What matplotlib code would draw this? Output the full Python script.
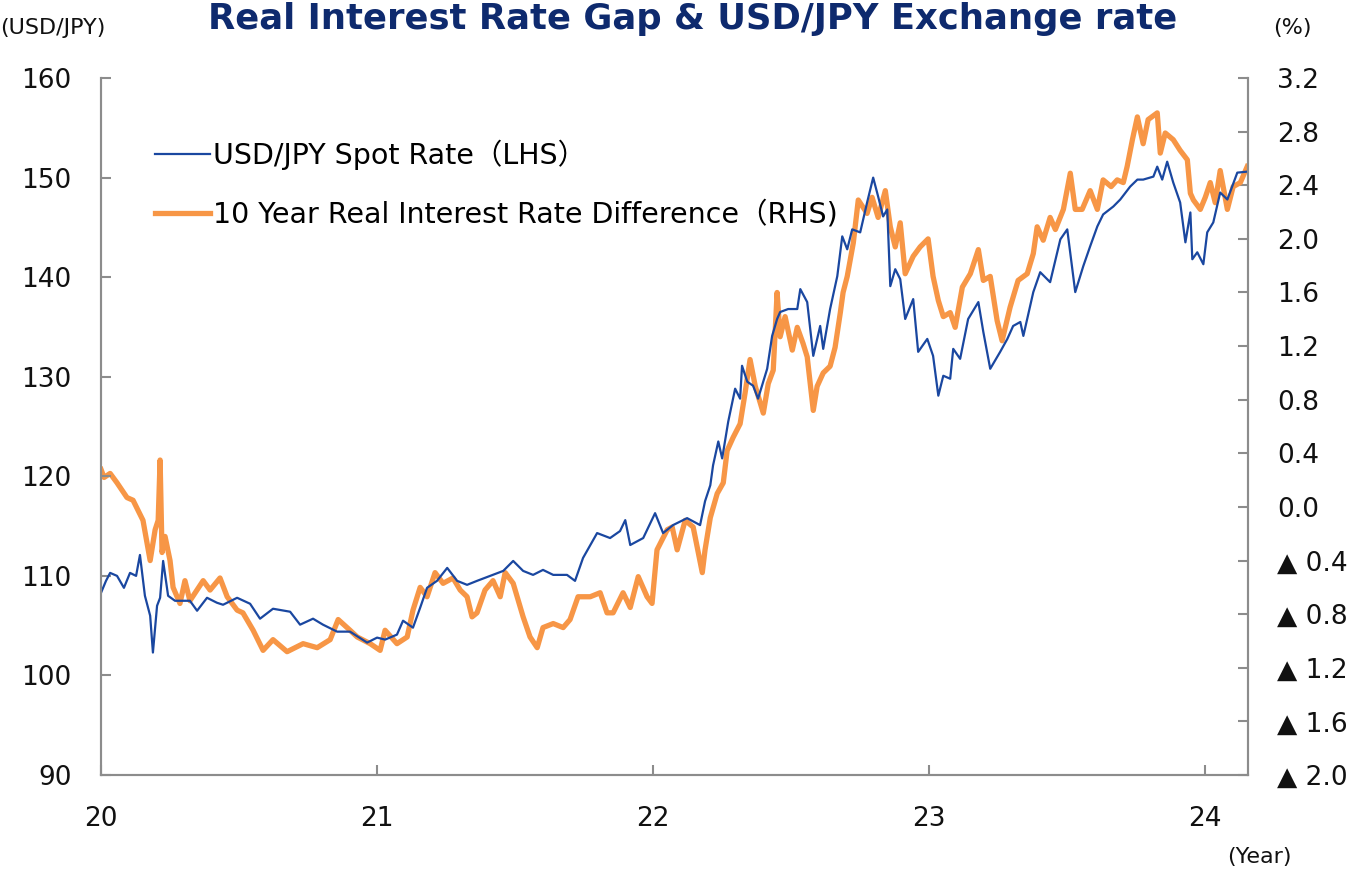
import matplotlib.pyplot as plt
from matplotlib.ticker import FuncFormatter, MultipleLocator

# USD/JPY spot rate (LHS), decimal year -> yen
usd_t = [20.000, 20.018, 20.033, 20.058, 20.083, 20.105, 20.127, 20.141, 20.159, 20.178,
         20.188, 20.203, 20.214, 20.225, 20.243, 20.268, 20.322, 20.348, 20.384, 20.420,
         20.442, 20.493, 20.540, 20.576, 20.623, 20.685, 20.721, 20.768, 20.804, 20.855,
         20.902, 20.964, 21.000, 21.029, 21.072, 21.094, 21.130, 21.156, 21.181, 21.217,
         21.254, 21.290, 21.326, 21.362, 21.409, 21.457, 21.493, 21.529, 21.565, 21.601,
         21.638, 21.688, 21.717, 21.746, 21.797, 21.844, 21.880, 21.899, 21.917, 21.964,
         22.007, 22.036, 22.072, 22.123, 22.170, 22.188, 22.207, 22.217, 22.236, 22.250,
         22.272, 22.297, 22.315, 22.322, 22.341, 22.362, 22.380, 22.413, 22.431, 22.449,
         22.460, 22.489, 22.522, 22.533, 22.558, 22.580, 22.605, 22.616, 22.641, 22.667,
         22.685, 22.703, 22.721, 22.750, 22.775, 22.797, 22.815, 22.833, 22.848, 22.859,
         22.877, 22.895, 22.913, 22.942, 22.960, 22.993, 23.014, 23.033, 23.051, 23.076,
         23.087, 23.112, 23.141, 23.178, 23.196, 23.221, 23.257, 23.283, 23.304, 23.330,
         23.341, 23.355, 23.377, 23.402, 23.438, 23.475, 23.500, 23.529, 23.558, 23.583,
         23.609, 23.630, 23.667, 23.692, 23.728, 23.754, 23.775, 23.812, 23.826, 23.844,
         23.862, 23.884, 23.909, 23.928, 23.946, 23.953, 23.971, 23.993, 24.007, 24.029,
         24.054, 24.080, 24.116, 24.152]
usd_jpy = [108.3, 109.5, 110.3, 110.0, 108.8, 110.3, 110.0, 112.1, 108.0, 106.0,
           102.3, 107.0, 107.8, 111.5, 108.0, 107.5, 107.5, 106.5, 107.8, 107.3,
           107.1, 107.8, 107.2, 105.7, 106.7, 106.4, 105.1, 105.7, 105.1, 104.4,
           104.4, 103.3, 103.8, 103.6, 104.1, 105.5, 104.8, 106.8, 108.8, 109.5,
           110.8, 109.5, 109.1, 109.5, 110.0, 110.5, 111.5, 110.5, 110.1, 110.6,
           110.1, 110.1, 109.5, 111.8, 114.3, 113.8, 114.5, 115.6, 113.1, 113.8,
           116.3, 114.3, 115.1, 115.8, 115.1, 117.5, 119.1, 121.1, 123.5, 121.8,
           125.5, 128.8, 127.8, 131.1, 129.5, 129.1, 127.8, 130.8, 134.1, 135.8,
           136.5, 136.8, 136.8, 138.8, 137.5, 132.1, 135.1, 132.8, 136.8, 140.1,
           144.1, 142.8, 144.8, 144.5, 147.5, 150.0, 148.1, 146.1, 146.8, 139.1,
           140.8, 139.8, 135.8, 137.8, 132.5, 133.8, 132.1, 128.1, 130.1, 129.8,
           132.8, 131.8, 135.8, 137.5, 134.5, 130.8, 132.5, 133.8, 135.1, 135.5,
           134.1, 135.8, 138.5, 140.5, 139.5, 143.8, 144.8, 138.5, 141.1, 143.1,
           145.1, 146.3, 147.1, 147.8, 149.1, 149.8, 149.8, 150.1, 151.1, 149.8,
           151.6, 149.5, 147.5, 143.5, 146.5, 141.8, 142.5, 141.3, 144.5, 145.5,
           148.5, 147.8, 150.5, 150.6]

# 10Y real interest rate difference (RHS), decimal year -> %
gap_t = [20.000, 20.011, 20.033, 20.058, 20.094, 20.116, 20.152, 20.178, 20.196, 20.207,
         20.214, 20.221, 20.232, 20.250, 20.261, 20.286, 20.304, 20.322, 20.370, 20.395,
         20.431, 20.457, 20.493, 20.514, 20.551, 20.587, 20.623, 20.674, 20.732, 20.783,
         20.830, 20.859, 20.902, 20.928, 20.975, 21.011, 21.029, 21.072, 21.109, 21.130,
         21.156, 21.181, 21.210, 21.239, 21.275, 21.301, 21.326, 21.344, 21.362, 21.391,
         21.420, 21.446, 21.464, 21.493, 21.529, 21.554, 21.580, 21.601, 21.638, 21.674,
         21.699, 21.728, 21.772, 21.808, 21.833, 21.855, 21.891, 21.917, 21.946, 21.978,
         21.996, 22.014, 22.051, 22.069, 22.087, 22.116, 22.145, 22.178, 22.188, 22.207,
         22.232, 22.254, 22.268, 22.290, 22.315, 22.333, 22.351, 22.370, 22.399, 22.417,
         22.435, 22.449, 22.460, 22.478, 22.504, 22.522, 22.543, 22.558, 22.580, 22.594,
         22.616, 22.641, 22.659, 22.678, 22.688, 22.703, 22.725, 22.743, 22.775, 22.793,
         22.815, 22.841, 22.859, 22.877, 22.895, 22.913, 22.942, 22.967, 22.996, 23.014,
         23.033, 23.051, 23.076, 23.094, 23.120, 23.149, 23.178, 23.196, 23.221, 23.246,
         23.264, 23.293, 23.322, 23.355, 23.377, 23.391, 23.413, 23.438, 23.457, 23.486,
         23.511, 23.529, 23.554, 23.583, 23.609, 23.630, 23.659, 23.681, 23.703, 23.717,
         23.736, 23.754, 23.775, 23.793, 23.826, 23.837, 23.855, 23.884, 23.909, 23.935,
         23.946, 23.957, 23.982, 24.000, 24.018, 24.036, 24.054, 24.080, 24.101, 24.127,
         24.152]
real_gap = [0.28, 0.22, 0.25, 0.18, 0.07, 0.05, -0.10, -0.40, -0.17, -0.10,
            0.35, -0.34, -0.22, -0.40, -0.60, -0.72, -0.55, -0.70, -0.55, -0.62,
            -0.53, -0.67, -0.77, -0.79, -0.92, -1.07, -0.99, -1.08, -1.02, -1.05,
            -0.99, -0.84, -0.92, -0.97, -1.02, -1.07, -0.92, -1.02, -0.97, -0.77,
            -0.60, -0.67, -0.49, -0.57, -0.53, -0.62, -0.67, -0.82, -0.79, -0.62,
            -0.55, -0.67, -0.49, -0.57, -0.82, -0.97, -1.05, -0.90, -0.87, -0.90,
            -0.84, -0.67, -0.67, -0.64, -0.79, -0.79, -0.64, -0.75, -0.52, -0.67,
            -0.72, -0.32, -0.17, -0.15, -0.32, -0.10, -0.15, -0.49, -0.32, -0.08,
            0.10, 0.18, 0.42, 0.52, 0.62, 0.85, 1.10, 0.90, 0.70, 0.92,
            1.02, 1.60, 1.27, 1.42, 1.17, 1.34, 1.22, 1.12, 0.72, 0.90,
            1.00, 1.05, 1.19, 1.45, 1.60, 1.72, 1.97, 2.29, 2.19, 2.31,
            2.16, 2.36, 2.09, 1.94, 2.12, 1.74, 1.87, 1.94, 2.00, 1.72,
            1.54, 1.42, 1.45, 1.34, 1.64, 1.74, 1.92, 1.69, 1.72, 1.39,
            1.24, 1.49, 1.69, 1.74, 1.89, 2.09, 1.99, 2.16, 2.07, 2.22,
            2.49, 2.22, 2.22, 2.36, 2.22, 2.44, 2.39, 2.44, 2.42, 2.54,
            2.74, 2.91, 2.71, 2.89, 2.94, 2.64, 2.79, 2.74, 2.66, 2.59,
            2.34, 2.29, 2.22, 2.31, 2.42, 2.27, 2.51, 2.22, 2.39, 2.42,
            2.54]

year_ticks = [20, 21, 22, 23, 24]
blue = '#1a47a0'
orange = '#f79646'
navy = '#0e2a6e'
grey = '#8c8c8c'

fig = plt.figure(figsize=(13.67, 8.71), dpi=100)
ax = fig.add_axes([0.0739, 0.1102, 0.8391, 0.8002])
ax2 = ax.twinx()

ax2.plot(gap_t, real_gap, color=orange, lw=3.8, solid_joinstyle='round',
         label='10 Year Real Interest Rate Difference\uff08RHS)')
ax.plot(usd_t, usd_jpy, color=blue, lw=1.6, label='USD/JPY Spot Rate\uff08LHS\uff09')

# blue line drawn above the orange one
ax.set_zorder(ax2.get_zorder() + 1)
ax.patch.set_visible(False)

ax.set_xlim(20, 24.155)
ax.set_ylim(90, 160)
ax2.set_ylim(-2.0, 3.2)
ax.set_xticks(year_ticks)
ax.set_xticklabels([str(y) for y in year_ticks])
ax.yaxis.set_major_locator(MultipleLocator(10))
ax2.yaxis.set_major_locator(MultipleLocator(0.4))


def rhs_fmt(v, pos):
    if v < -1e-9:
        return '\u25b2 %.1f' % abs(v)
    return '%.1f' % abs(v)


ax2.yaxis.set_major_formatter(FuncFormatter(rhs_fmt))

for a in (ax, ax2):
    for s in a.spines.values():
        s.set_color(grey)
        s.set_linewidth(1.5)
    a.spines['top'].set_visible(False)
ax.tick_params(axis='both', direction='in', length=7, width=1.5, color=grey,
               labelsize=19, labelcolor='#111111')
ax.tick_params(axis='y', pad=21)
ax.tick_params(axis='x', pad=22)
ax2.tick_params(axis='y', direction='in', length=7, width=1.5, color=grey,
                labelsize=19, labelcolor='#111111', pad=21)

fig.text(0.507, 0.978, 'Real Interest Rate Gap & USD/JPY Exchange rate',
         ha='center', va='center', fontsize=25.5, fontweight='bold', color=navy)
fig.text(0.0, 0.968, '(USD/JPY)', ha='left', va='center', fontsize=16, color='#111111')
fig.text(0.9312, 0.968, '(%)', ha='left', va='center', fontsize=16, color='#111111')
fig.text(0.898, 0.016, '(Year)', ha='left', va='center', fontsize=16, color='#111111')

h1, l1 = ax.get_legend_handles_labels()
h2, l2 = ax2.get_legend_handles_labels()
ax.legend(h1 + h2, l1 + l2, loc='upper left', bbox_to_anchor=(0.0248, 0.949),
          frameon=False, handlelength=1.93, handletextpad=0.1, labelspacing=1.1,
          prop={'family': ['DejaVu Sans', 'Noto Sans CJK JP'], 'size': 20.5})

fig.savefig('out.png', dpi=100)
